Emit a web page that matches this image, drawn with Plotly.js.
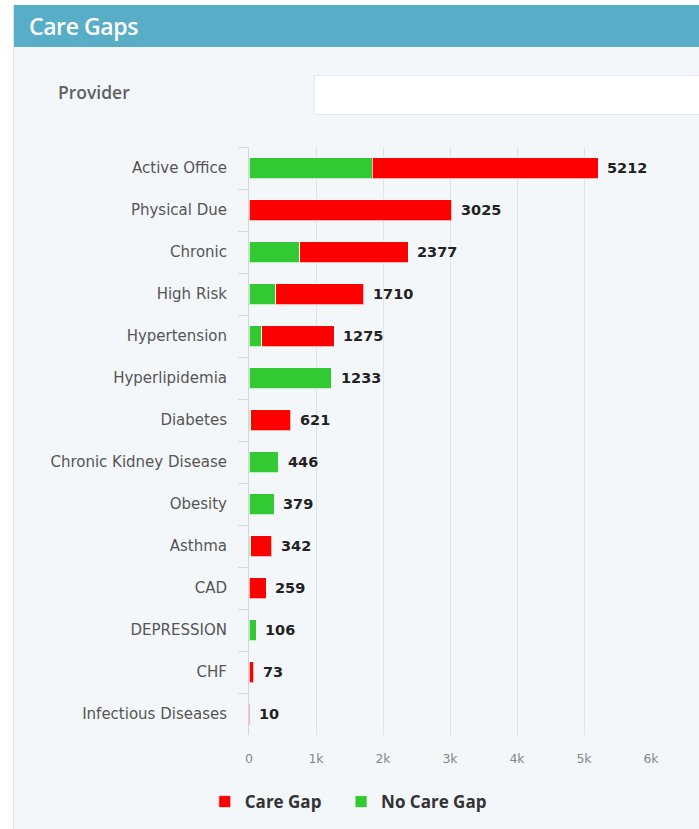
<!DOCTYPE html>
<html>
<head>
<meta charset="utf-8">
<script src="https://cdn.plot.ly/plotly-3.0.1.min.js"></script>
<style>
  html, body { margin: 0; padding: 0; width: 699px; height: 829px; overflow: hidden; background: #ffffff; }
  #panel { position: absolute; left: 13px; top: 5px; width: 686px; height: 824px; background: #f4f7fa; border-left: 1px solid #dfe5ea; box-sizing: border-box; }
  #header { position: absolute; left: 0; top: 0; width: 686px; height: 42px; background: #58aec6; }
  #header span { position: absolute; left: 15px; top: 5px; color: #ffffff; font-family: "Open Sans", sans-serif; font-weight: 600; font-size: 23px; letter-spacing: -0.4px; }
  #provider { position: absolute; left: 44px; top: 75px; color: #606060; font-family: "Open Sans", sans-serif; font-weight: 600; font-size: 17.5px; }
  #input { position: absolute; left: 300px; top: 70px; width: 400px; height: 40px; background: #ffffff; border: 1px solid #e6ebef; box-sizing: border-box; }
  #chart { position: absolute; left: 0; top: 0; width: 699px; height: 829px; }
</style>
</head>
<body>
<div id="panel">
  <div id="header"><span>Care Gaps</span></div>
  <div id="provider">Provider</div>
  <div id="input"></div>
</div>
<div id="chart"></div>
<script>
const categories = ['Active Office','Physical Due','Chronic','High Risk','Hypertension','Hyperlipidemia','Diabetes','Chronic Kidney Disease','Obesity','Asthma','CAD','DEPRESSION','CHF','Infectious Diseases'];
const noCareGap = [1840, 0, 760, 400, 190, 1233, 25, 446, 379, 25, 0, 106, 0, 0];
const careGap   = [3372, 3025, 1617, 1310, 1085, 0, 596, 0, 0, 317, 259, 0, 73, 10];
const totals    = [5212, 3025, 2377, 1710, 1275, 1233, 621, 446, 379, 342, 259, 106, 73, 10];
const xTickVals = [0, 1000, 2000, 3000, 4000, 5000, 6000];
const xTickText = ['0', '1k', '2k', '3k', '4k', '5k', '6k'];

const traces = [
  {
    type: 'bar', orientation: 'h', name: 'No Care Gap',
    y: categories, x: noCareGap, width: 0.5,
    marker: { color: '#33c933', line: { color: 'rgba(255,255,255,0.7)', width: 1 } },
    legend: 'legend2', hoverinfo: 'x+y'
  },
  {
    type: 'bar', orientation: 'h', name: 'Care Gap',
    y: categories, x: careGap, width: 0.5,
    marker: { color: '#ff0000', line: { color: 'rgba(255,255,255,0.7)', width: 1 } },
    legend: 'legend', hoverinfo: 'x+y'
  }
];

const annotations = categories.map((c, i) => ({
  x: totals[i], y: c, xref: 'x', yref: 'y',
  text: String(totals[i]), showarrow: false,
  xanchor: 'left', yanchor: 'middle', xshift: 7,
  font: { family: 'DejaVu Sans', size: 14.5, color: '#222222', weight: 'bold' }
}));

const legendFont = { family: 'Open Sans', size: 17, color: '#333333', weight: 'bold' };

const layout = {
  width: 699, height: 829,
  margin: { l: 249, r: 48, t: 147, b: 94, autoexpand: false },
  paper_bgcolor: 'rgba(0,0,0,0)',
  plot_bgcolor: 'rgba(0,0,0,0)',
  barmode: 'stack',
  showlegend: true,
  annotations: annotations,
  legend: {
    orientation: 'h', x: -0.11, xanchor: 'left', y: -0.114, yanchor: 'middle',
    font: legendFont, bgcolor: 'rgba(0,0,0,0)'
  },
  legend2: {
    orientation: 'h', x: 0.229, xanchor: 'left', y: -0.114, yanchor: 'middle',
    font: legendFont, bgcolor: 'rgba(0,0,0,0)'
  },
  xaxis: {
    range: [0, 6000], tickvals: xTickVals, ticktext: xTickText,
    showgrid: true, gridcolor: '#dde3e9', gridwidth: 1,
    zeroline: false, showline: false, ticks: '',
    ticklabelstandoff: 14,
    tickfont: { family: 'DejaVu Sans', size: 12.5, color: '#888888' }
  },
  yaxis: {
    type: 'category', categoryorder: 'array', categoryarray: categories,
    autorange: 'reversed',
    showgrid: false, zeroline: false,
    showline: true, linecolor: '#cfd9e2', linewidth: 1,
    ticks: 'outside', tickson: 'boundaries', ticklen: 10, tickcolor: '#d3dce4',
    ticklabelstandoff: 18,
    tickfont: { family: 'DejaVu Sans', size: 15, color: '#555555' }
  }
};

Plotly.newPlot('chart', traces, layout, { displayModeBar: false, staticPlot: true });
</script>
</body>
</html>
